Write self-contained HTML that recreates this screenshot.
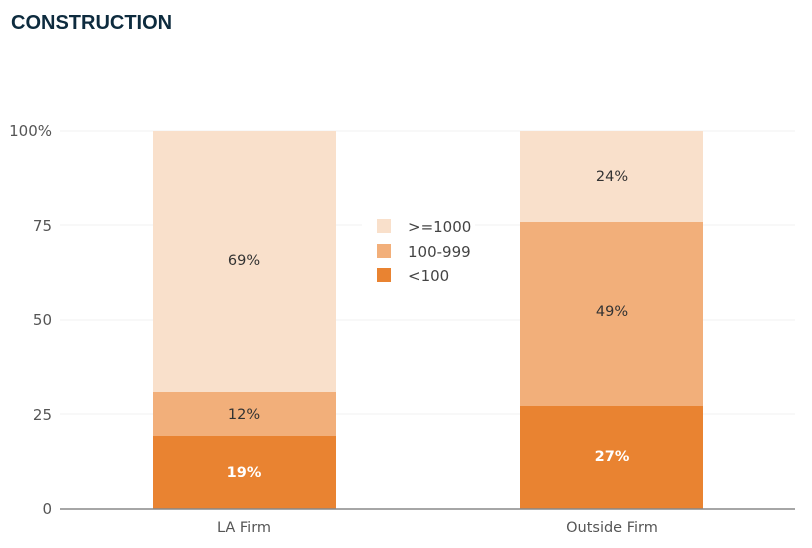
<!DOCTYPE html>
<html><head><style>
body{margin:0;background:#fff;width:812px;height:544px;overflow:hidden;font-family:"DejaVu Sans","Liberation Sans",sans-serif;}
</style></head><body>
<svg width="812" height="544" xmlns="http://www.w3.org/2000/svg">
<text x="11" y="29" font-family="Liberation Sans, sans-serif" font-weight="bold" font-size="20" fill="#0d2b3e">CONSTRUCTION</text>
<g stroke="#f2f2f2" stroke-width="1">
<line x1="60" y1="131" x2="795" y2="131"/>
<line x1="60" y1="225" x2="795" y2="225"/>
<line x1="60" y1="320" x2="795" y2="320"/>
<line x1="60" y1="414" x2="795" y2="414"/>
</g>
<g font-size="15" fill="#555" text-anchor="end">
<text x="52" y="136">100%</text>
<text x="52" y="231">75</text>
<text x="52" y="325">50</text>
<text x="52" y="420">25</text>
<text x="52" y="514">0</text>
</g>
<rect x="153" y="131" width="183" height="262" fill="#f9e0cb"/>
<rect x="153" y="392" width="183" height="44" fill="#f2af7a"/>
<rect x="153" y="436" width="183" height="73" fill="#e98331"/>
<rect x="520" y="131" width="183" height="91" fill="#f9e0cb"/>
<rect x="520" y="222" width="183" height="185" fill="#f2af7a"/>
<rect x="520" y="406" width="183" height="103" fill="#e98331"/>
<line x1="60" y1="509" x2="795" y2="509" stroke="#888" stroke-width="1.5"/>
<g font-size="14.5" fill="#333" text-anchor="middle">
<text x="244" y="265">69%</text>
<text x="244" y="419">12%</text>
<text x="244" y="477" fill="#fff" font-weight="bold">19%</text>
<text x="612" y="181">24%</text>
<text x="612" y="316">49%</text>
<text x="612" y="461" fill="#fff" font-weight="bold">27%</text>
<text x="244" y="532" fill="#555">LA Firm</text>
<text x="612" y="532" fill="#555">Outside Firm</text>
</g>
<rect x="362" y="210" width="113" height="80" fill="#fff"/>
<rect x="377" y="219" width="14" height="14" fill="#f9e0cb"/>
<rect x="377" y="244" width="14" height="14" fill="#f2af7a"/>
<rect x="377" y="268" width="14" height="14" fill="#e98331"/>
<g font-size="15" fill="#444">
<text x="408" y="232">&gt;=1000</text>
<text x="408" y="257">100-999</text>
<text x="408" y="281">&lt;100</text>
</g>
</svg>
</body></html>
